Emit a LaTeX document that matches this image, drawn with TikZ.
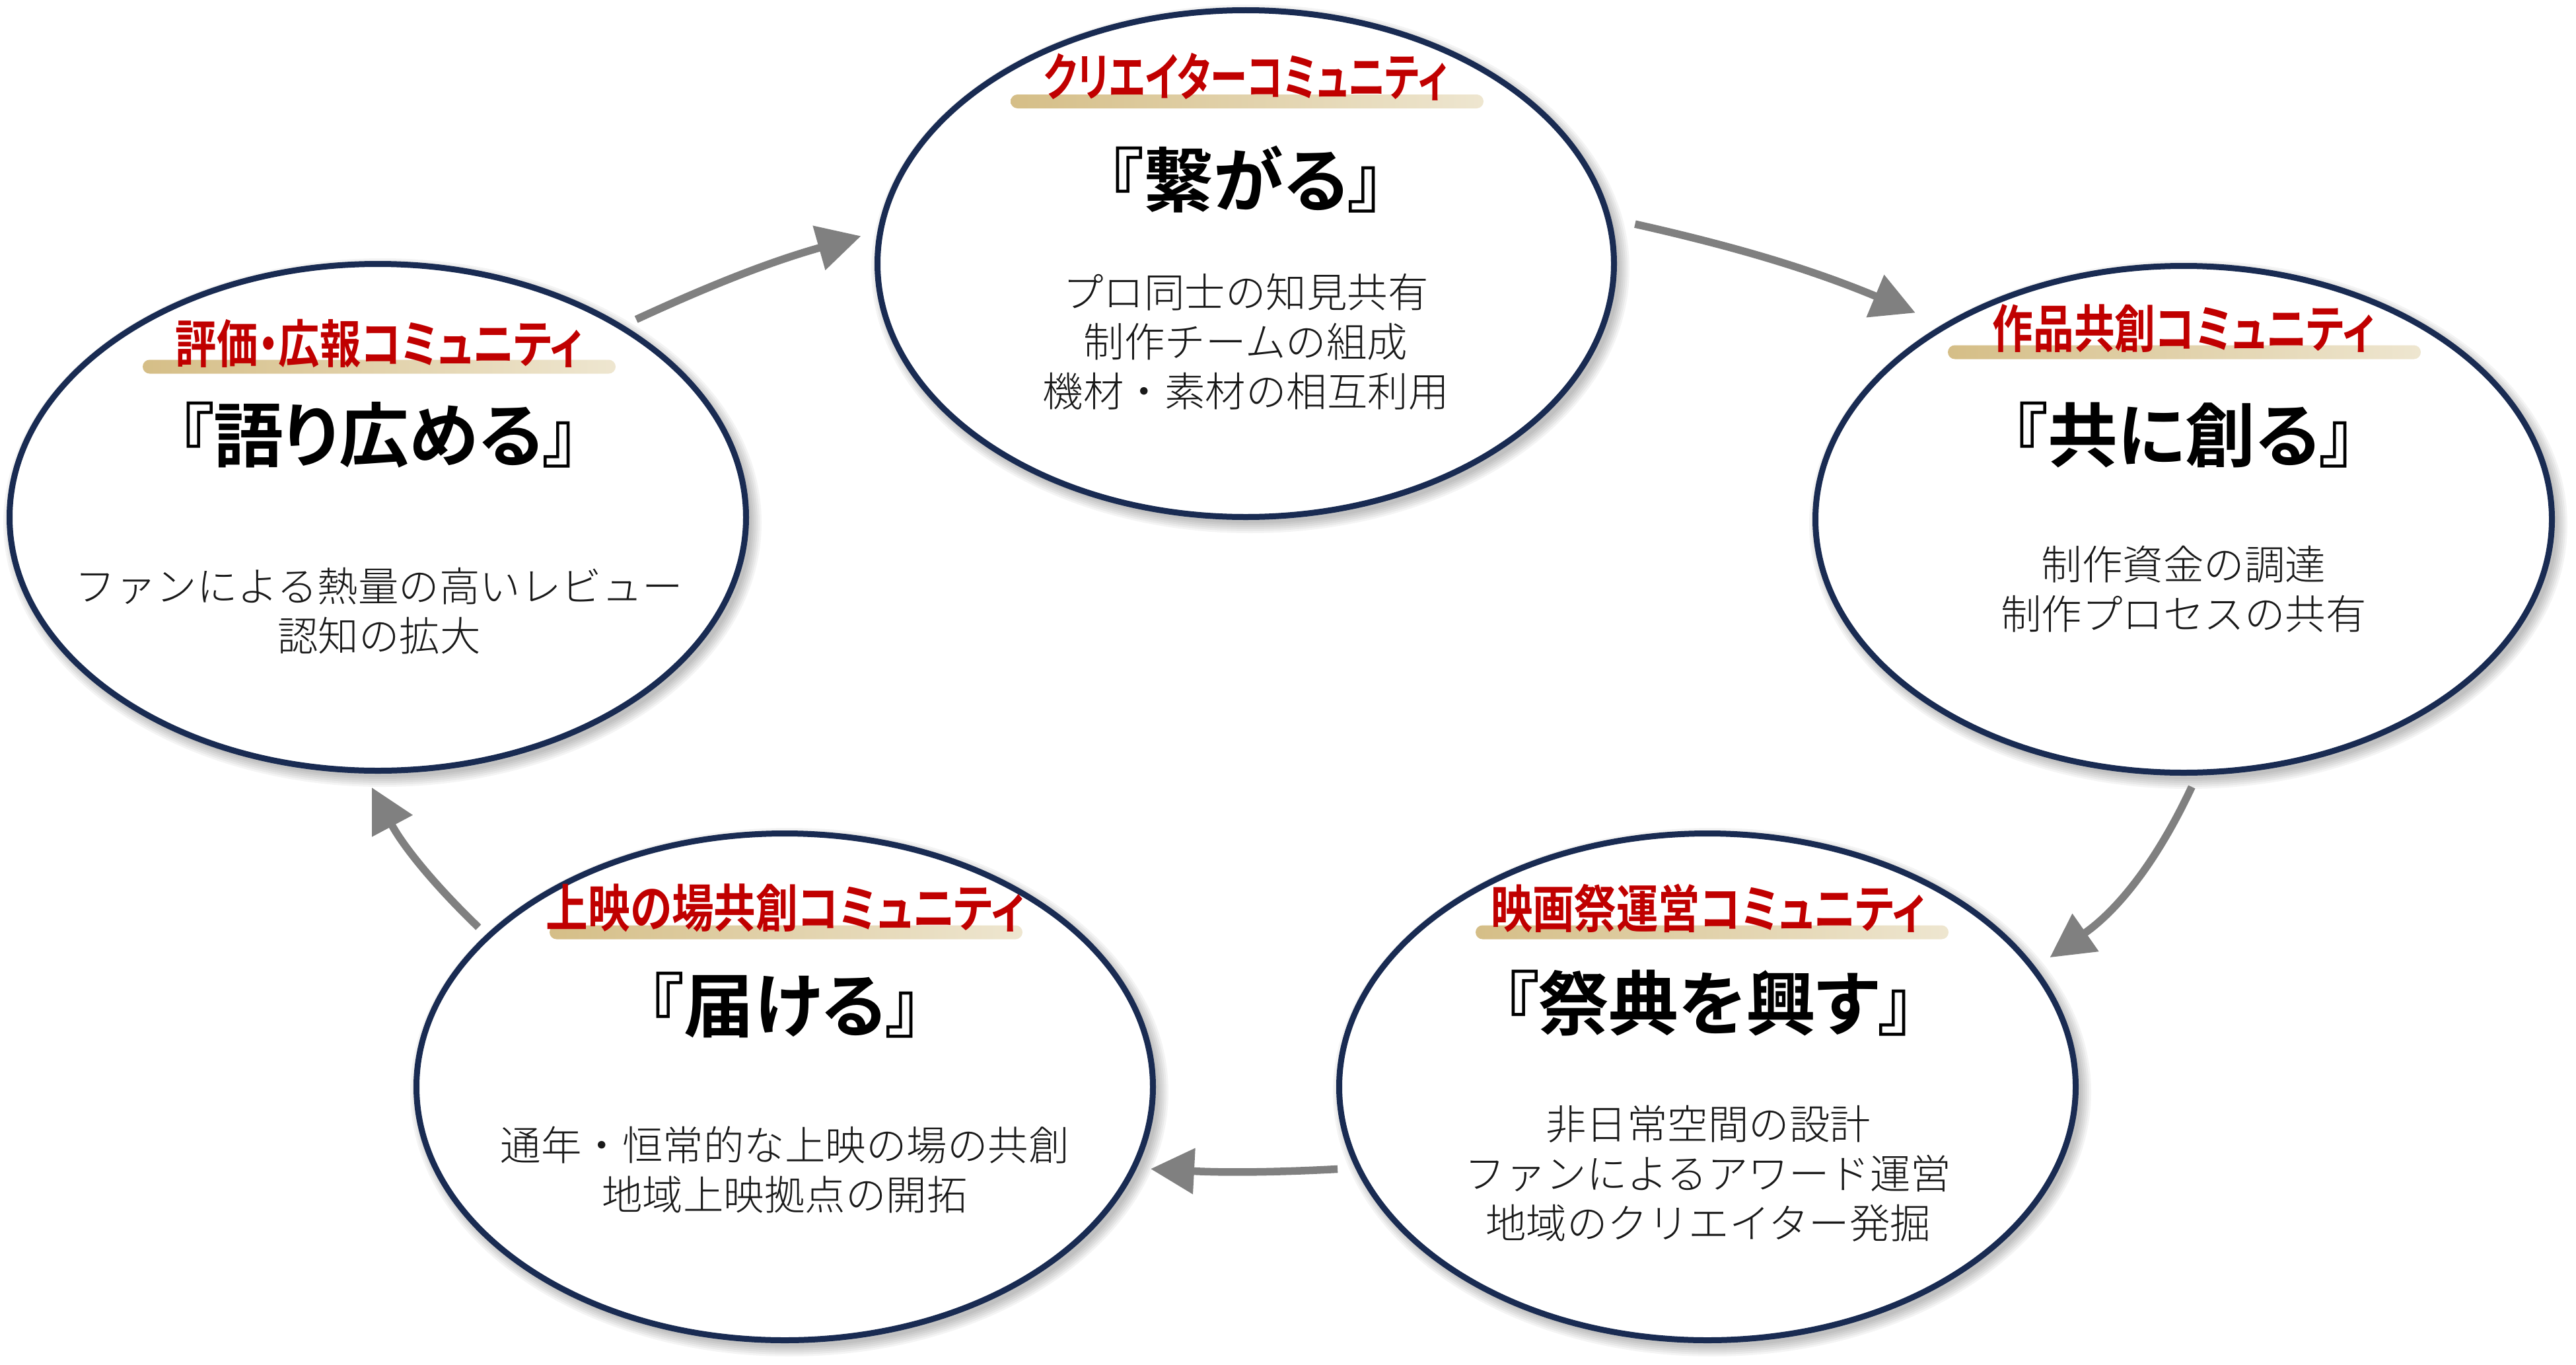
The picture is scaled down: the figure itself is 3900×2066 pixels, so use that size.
\documentclass[tikz,border=0pt]{standalone}
\usepackage{fontspec}
\usetikzlibrary{shapes.geometric,arrows.meta}
\newfontfamily\lblfont[RawFeature=+palt]{Noto Sans CJK JP Bold}
\IfFontExistsTF{Noto Sans CJK JP Light}
  {\newfontfamily\bodyfont{Noto Sans CJK JP Light}}
  {\IfFontExistsTF{Noto Sans CJK JP DemiLight}
    {\newfontfamily\bodyfont{Noto Sans CJK JP DemiLight}}
    {\newfontfamily\bodyfont{Noto Sans CJK JP}}}
\definecolor{navy}{RGB}{25,43,82}
\definecolor{lblred}{RGB}{192,0,0}
\definecolor{arrowgray}{RGB}{128,128,128}
\definecolor{goldL}{RGB}{213,190,135}
\definecolor{goldR}{RGB}{238,230,208}
\newcommand\ellshadow[2]{%
  \foreach \dr in {0pt,3pt,6pt,9pt,12pt,15pt}{%
    \fill[black,opacity=0.045] ({#1+7},{#2+8}) ellipse [x radius=574pt-\dr, y radius=400pt-\dr];}}
\newcommand\lbltext[2]{\scalebox{#1}[1]{#2}}
\begin{document}
\begin{tikzpicture}[x=1pt,y=-1pt,
  comm/.style={ellipse, draw=navy, line width=9pt, fill=white, minimum width=1115pt, minimum height=767pt, inner sep=0pt},
  goldbar/.style={rectangle, rounded corners=10.5pt, minimum width=716pt, minimum height=21pt, inner sep=0pt, left color=goldL, right color=goldR},
  lbl/.style={font=\lblfont\fontsize{78}{84}\selectfont, text=lblred, inner sep=0pt},
  ttl/.style={font=\lblfont\fontsize{106}{110}\selectfont, text=black, inner sep=0pt},
  body/.style={font=\bodyfont\fontsize{61.5}{75}\selectfont, text=black!90, align=center, inner sep=0pt},
  flow/.style={draw=arrowgray, line width=11.5pt, -{Triangle[length=66pt,width=67pt]}}
]
\useasboundingbox (0,0) rectangle (3900,2066);
\fill[white] (0,0) rectangle (3900,2066);

% shadows
\ellshadow{1886}{399}
\ellshadow{572}{783}
\ellshadow{3306}{786}
\ellshadow{1188}{1645}
\ellshadow{2585}{1645}

% ellipses
\node[comm] (T) at (1886,399) {};
\node[comm] (L) at (572,783) {};
\node[comm] (R) at (3306,786) {};
\node[comm] (BL) at (1188,1645) {};
\node[comm] (BR) at (2585,1645) {};

% top
\node[goldbar] (Tbar) at (1888,153.5) {};
\node[lbl] (Tlbl) at (1886,116) {\lbltext{0.723}{クリエイターコミュニティ}};
\node[ttl] (Tttl) at (1886,271) {『繋がる』};
\node[body] (Tbody) at (1886,517.5) {プロ同士の知見共有\\制作チームの組成\\機材・素材の相互利用};

% left
\node[goldbar] (Lbar) at (574,555) {};
\node[lbl] (Llbl) at (574,520) {\lbltext{0.80}{評価・広報コミュニティ}};
\node[ttl] (Lttl) at (573,658) {『語り広める』};
\node[body] (Lbody) at (574,925) {ファンによる熱量の高いレビュー\\認知の拡大};

% right
\node[goldbar] (Rbar) at (3307,533) {};
\node[lbl] (Rlbl) at (3306,497.5) {\lbltext{0.791}{作品共創コミュニティ}};
\node[ttl] (Rttl) at (3306,658) {『共に創る』};
\node[body] (Rbody) at (3306,891.5) {制作資金の調達\\制作プロセスの共有};

% bottom left
\node[goldbar] (BLbar) at (1190,1411) {};
\node[lbl] (BLlbl) at (1189,1374.5) {\lbltext{0.817}{上映の場共創コミュニティ}};
\node[ttl] (BLttl) at (1188,1521) {『届ける』};
\node[body] (BLbody) at (1188,1770) {通年・恒常的な上映の場の共創\\地域上映拠点の開拓};

% bottom right
\node[goldbar] (BRbar) at (2592,1411) {};
\node[lbl] (BRlbl) at (2586,1374.5) {\lbltext{0.813}{映画祭運営コミュニティ}};
\node[ttl] (BRttl) at (2587,1518.5) {『祭典を興す』};
\node[body] (BRbody) at (2586,1776) {非日常空間の設計\\ファンによるアワード運営\\地域のクリエイター発掘};

% arrows
\draw[flow, shorten <=21pt, shorten >=26pt] (L.38.5) to[bend left=4.5] (T.175);
\draw[flow, shorten <=37pt, shorten >=45pt] (T.7.3) to[bend left=5] (R.141.5);
\draw[flow, shorten <=19pt, shorten >=26pt] (R.273) to[bend left=15] (BR.20);
\draw[flow, shorten <=27pt, shorten >=21pt] (BR.193.2) to[bend left=3] (BL.347.3);
\draw[flow, shorten <=16pt, shorten >=24pt] (BL.153.7) to[bend left=9] (L.267.2);
\end{tikzpicture}
\end{document}
